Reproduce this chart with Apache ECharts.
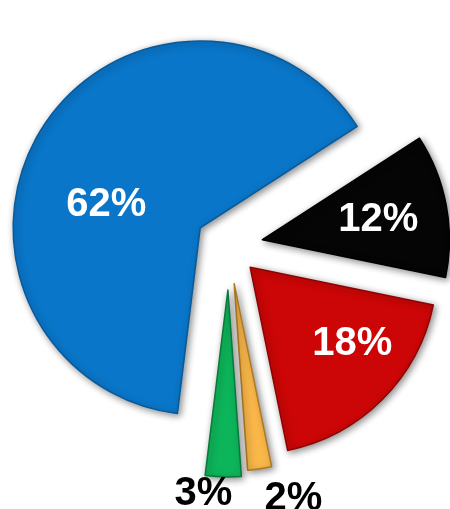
<!DOCTYPE html>
<html>
<head>
<meta charset="utf-8">
<script src="https://cdn.jsdelivr.net/npm/echarts@6/dist/echarts.min.js"></script>
<style>
  html, body { margin: 0; padding: 0; background: #ffffff; }
  #chart { width: 450px; height: 509px; }
</style>
</head>
<body>
<div id="chart"></div>
<script>
// Share of each group, in percent (clockwise from the large blue wedge)
const groups = ['A', 'B', 'C', 'D', 'E'];
const shares = [62, 12, 18, 2, 3];

// Look of each wedge
const fillColors = ['#0a76c9', '#050505', '#cc0606', '#fbb84a', '#0db55a'];
const rimColors = ['#065a9c', '#000000', '#8e0303', '#b07a22', '#067a3b'];
const textColors = ['#ffffff', '#ffffff', '#ffffff', '#000000', '#000000'];
const explode = [34, 34, 30, 38, 44];          // px each wedge is pulled out
const labelShift = [[-12, 28], [21, -2], [34, 8], [46, 120], [-22, 108]];

const baseCenter = [229, 246];
const radius = 187;
const startAngle = 263;

const chart = echarts.init(document.getElementById('chart'), null, { renderer: 'canvas' });
const total = shares.reduce((a, b) => a + b, 0);

let cum = 0;
const series = shares.map((v, i) => {
  const midDeg = startAngle - (cum + v / 2) / total * 360;
  cum += v;
  const rad = midDeg * Math.PI / 180;
  const cx = baseCenter[0] + explode[i] * Math.cos(rad);
  const cy = baseCenter[1] - explode[i] * Math.sin(rad);
  return {
    type: 'pie',
    center: [cx, cy],
    radius: [0, radius],
    startAngle: startAngle,
    clockwise: true,
    silent: true,
    animation: false,
    avoidLabelOverlap: false,
    labelLine: { show: false },
    emphasis: { disabled: true },
    data: shares.map((val, j) => ({
      name: groups[j],
      value: val,
      itemStyle: j === i ? {
        color: fillColors[j],
        borderColor: rimColors[j],
        borderWidth: 1.5,
        shadowBlur: 7,
        shadowColor: 'rgba(0,0,0,0.45)',
        shadowOffsetX: 2,
        shadowOffsetY: 2
      } : { color: 'transparent', borderWidth: 0 },
      label: j === i ? {
        show: true,
        position: 'inside',
        formatter: '{c}%',
        color: textColors[j],
        fontFamily: 'Liberation Sans, Arial, sans-serif',
        fontWeight: 'bold',
        fontSize: 40,
        offset: labelShift[j]
      } : { show: false }
    }))
  };
});

chart.setOption({
  backgroundColor: '#ffffff',
  animation: false,
  series: series
});
</script>
</body>
</html>
